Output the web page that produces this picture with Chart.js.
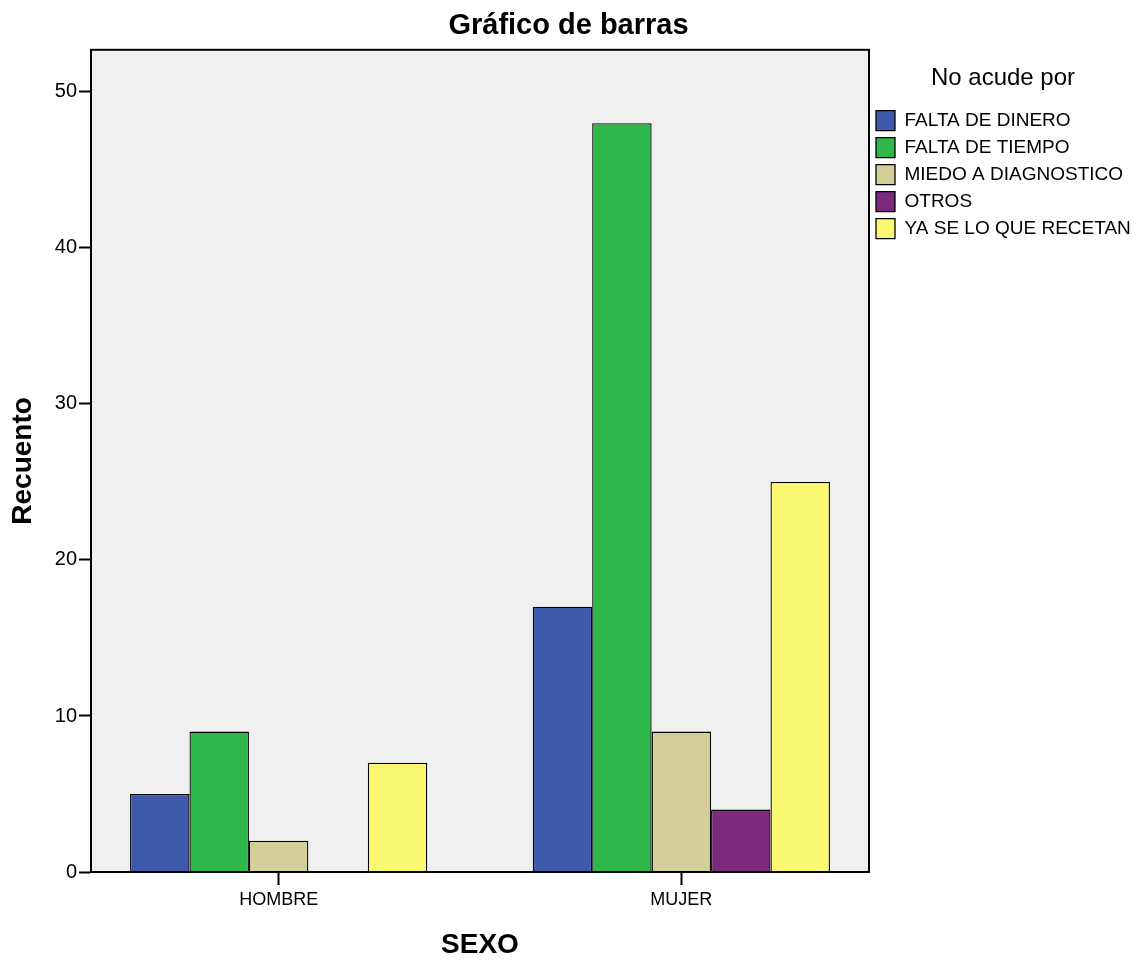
<!DOCTYPE html>
<html>
<head>
<meta charset="utf-8">
<title>Gráfico de barras</title>
<script src="https://cdn.jsdelivr.net/npm/chart.js@4.4.1/dist/chart.umd.min.js"></script>
<style>
  html, body { margin: 0; padding: 0; background: #fff; }
  #wrap { width: 1137px; height: 963px; }
</style>
</head>
<body>
<div id="wrap"><canvas id="chart" width="1137" height="963"></canvas></div>
<script>
const SEXO = ['HOMBRE', 'MUJER']
const FALTA_DE_DINERO = [5, 17]
const FALTA_DE_TIEMPO = [9, 48]
const MIEDO_A_DIAGNOSTICO = [2, 9]
const OTROS = [0, 4]
const YA_SE_LO_QUE_RECETAN = [7, 25]
const Y_TICKS = [0, 10, 20, 30, 40, 50]

const SERIES = [
  { label: 'FALTA DE DINERO', values: FALTA_DE_DINERO, color: '#3e59ab' },
  { label: 'FALTA DE TIEMPO', values: FALTA_DE_TIEMPO, color: '#2eb84a' },
  { label: 'MIEDO A DIAGNOSTICO', values: MIEDO_A_DIAGNOSTICO, color: '#d4cf99' },
  { label: 'OTROS', values: OTROS, color: '#7b2a7b' },
  { label: 'YA SE LO QUE RECETAN', values: YA_SE_LO_QUE_RECETAN, color: '#faf873' },
]

Chart.defaults.font.family = '"Liberation Sans", Arial, sans-serif'
Chart.defaults.color = '#000'

// grey plot background + black frame around the chart area
const plotFrame = {
  id: 'plotFrame',
  beforeDraw(chart) {
    const { ctx, chartArea: a } = chart
    ctx.save()
    ctx.fillStyle = '#f0f0f0'
    ctx.fillRect(a.left, a.top, a.right - a.left, a.bottom - a.top)
    ctx.restore()
  },
  afterDatasetsDraw(chart) {
    const { ctx, chartArea: a } = chart
    ctx.save()
    ctx.strokeStyle = '#000'
    ctx.lineWidth = 2
    ctx.strokeRect(a.left, a.top, a.right - a.left, a.bottom - a.top)
    ctx.restore()
  },
}

const datasets = SERIES.map((s) => ({
  label: s.label,
  data: s.values.map((v, i) => ({ x: i, y: v })),
  backgroundColor: s.color,
  borderColor: '#000',
  borderWidth: 1.3,
  categoryPercentage: 0.738,
  barPercentage: 1,
}))

new Chart(document.getElementById('chart'), {
  type: 'bar',
  data: { datasets },
  plugins: [plotFrame],
  options: {
    responsive: false,
    animation: false,
    layout: { padding: 0 },
    plugins: {
      title: {
        display: true,
        text: 'Gráfico de barras',
        color: '#000',
        font: { size: 29, weight: 'bold' },
        padding: { top: 9, bottom: 6 },
      },
      legend: {
        position: 'right',
        align: 'start',
        fullSize: false,
        maxWidth: 268,
        title: {
          display: true,
          text: 'No acude por',
          color: '#000',
          font: { size: 24 },
          padding: { top: 17, bottom: 8 },
        },
        labels: {
          boxWidth: 19,
          boxHeight: 20,
          padding: 7,
          color: '#000',
          font: { size: 19 },
        },
      },
      tooltip: { enabled: false },
    },
    scales: {
      x: {
        type: 'linear',
        min: -0.466,
        max: 1.466,
        offset: false,
        grid: { offset: false, drawOnChartArea: false, tickLength: 13, color: '#000', tickWidth: 2 },
        border: { color: '#000', width: 2 },
        afterBuildTicks: (axis) => {
          axis.ticks = SEXO.map((_, i) => ({ value: i }))
        },
        ticks: {
          autoSkip: false,
          maxRotation: 0,
          padding: 4,
          font: { size: 18 },
          callback: (value) => SEXO[value] ?? '',
        },
        title: {
          display: true,
          text: 'SEXO',
          font: { size: 28, weight: 'bold' },
          padding: { top: 0, bottom: 1 },
        },
        afterFit: (scale) => {
          scale.height = 91
        },
      },
      y: {
        min: 0,
        max: 52.7,
        grid: { drawOnChartArea: false, tickLength: 12, color: '#000', tickWidth: 2 },
        border: { color: '#000', width: 2 },
        afterBuildTicks: (axis) => {
          axis.ticks = Y_TICKS.map((v) => ({ value: v }))
        },
        ticks: { padding: 2, font: { size: 20 } },
        title: {
          display: true,
          text: 'Recuento',
          font: { size: 28, weight: 'bold' },
          padding: { top: 6, bottom: 0 },
        },
        afterFit: (scale) => {
          scale.width = 91
        },
      },
    },
  },
})
</script>
</body>
</html>
